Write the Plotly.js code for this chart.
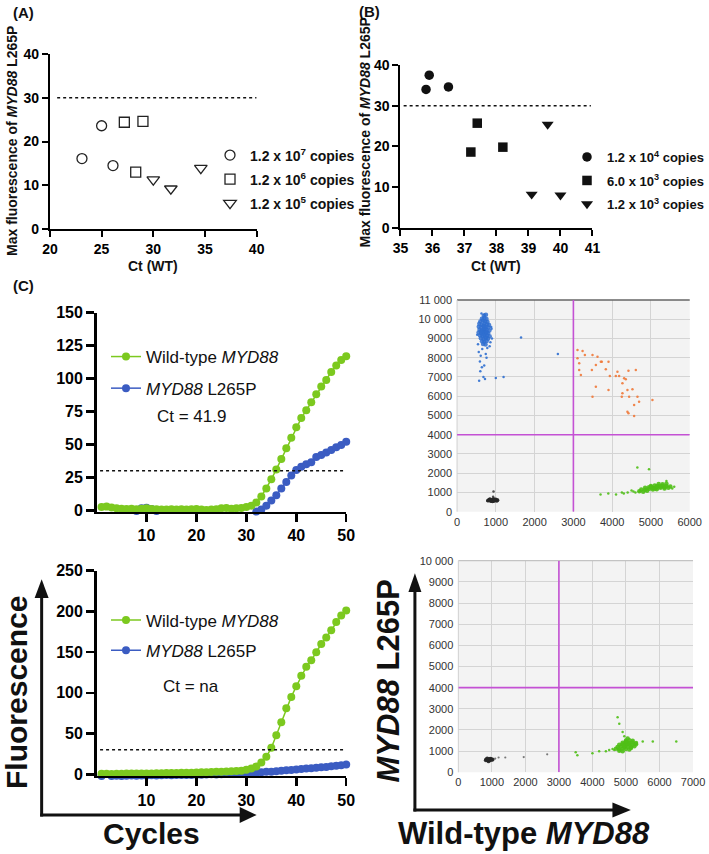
<!DOCTYPE html>
<html>
<head>
<meta charset="utf-8">
<script src="https://cdn.plot.ly/plotly-3.0.1.min.js"></script>
<style>html,body{margin:0;padding:0;background:#fff;}#chart{width:709px;height:854px;}</style>
</head>
<body>
<div id="chart"></div>
<script>
// ---------------- DATA ----------------
// Panel A
const a_ct_1e7 = [23.1, 25.0, 26.1];
const a_mf_1e7 = [16.1, 23.6, 14.5];
const a_ct_1e6 = [27.2, 29.0, 28.3];
const a_mf_1e6 = [24.4, 24.6, 13.0];
const a_ct_1e5 = [30.0, 31.7, 34.6];
const a_mf_1e5 = [11.3, 9.2, 13.9];
const a_names = ['1.2 x 10<sup>7</sup> copies', '1.2 x 10<sup>6</sup> copies', '1.2 x 10<sup>5</sup> copies'];
// Panel B
const b_ct_1e4 = [35.8, 35.9, 36.5];
const b_mf_1e4 = [34.0, 37.5, 34.6];
const b_ct_6e3 = [37.2, 37.4, 38.2];
const b_mf_6e3 = [18.6, 25.7, 19.8];
const b_ct_1e3 = [39.1, 39.6, 40.0];
const b_mf_1e3 = [8.2, 25.4, 8.0];
const b_names = ['1.2 x 10<sup>4</sup> copies', '6.0 x 10<sup>3</sup> copies', '1.2 x 10<sup>3</sup> copies'];
const threshold = 30;
// Panel C amplification curves
const cycles = [1,2,3,4,5,6,7,8,9,10,11,12,13,14,15,16,17,18,19,20,21,22,23,24,25,26,27,28,29,30,31,32,33,34,35,36,37,38,39,40,41,42,43,44,45,46,47,48,49,50];
const top_wt = [2.5,2.8,2.2,1.5,1.2,1.0,1.2,0.8,1.2,1.5, 1.0,0.8,0.5,0.5,0.8,0.5,0.8,0.5,0.8,1.0, 0.5,0.3,0.5,0.8,1.5,1.8,1.2,1.5,1.8,2.5, 3.5,6,10.5,16.5,23.5,31,39,47,55,63, 70,76,82,88,94,99,105,110,114,117];
const top_mut = [-3,-3.5,-3,-2.5,-2.5,-2,-1.5,-0.5,1.5,2, 1,-0.5,-1.5,-2,-2,-2.5,-2,-2.5,-2.5,-3, -2.5,-3,-2.5,-3,-3.5,-3,-3,-2.5,-3,-2.5, -2,-1,0.5,3.5,7.5,11.5,16.5,21.5,26.5,30.5, 33,35,36.5,40.5,42,43.8,45.8,47.8,49.6,52];
const bot_wt = [0.5,0.5,0.3,0.5,0.5,0.8,0.8,1,1,1, 1,1.2,1.2,1.5,1.5,1.5,1.8,2,2,2.2, 2.5,2.5,2.8,3,3.2,3.5,3.8,4,4.2,5.5, 7,9.5,14.5,21.5,32.5,48,64,81,95,108, 121,132,140,150,160,168,177,187,195,201];
const bot_mut = [-2,-2.2,-2,-1.8,-2,-1.8,-1.5,-1.8,-1.5,-1.5, -1.2,-1.5,-1.2,-1,-1.2,-1,-0.8,-1,-0.8,-0.5, -0.5,-0.3,0,-0.2,0,0.3,0.5,0.5,0.8,1, 1.5,2,2.5,3,3.2,3.8,4.2,4.8,5.2,6, 6.5,7,7.5,8,8.5,9,9.8,10.5,11,12];
const curve_names = ['Wild-type <i>MYD88</i>', '<i>MYD88</i> L265P'];
const ct_top = 'Ct = 41.9';
const ct_bot = 'Ct = na';
// ddPCR plot 1 (top)
const d1_blue_core_x = [690,745, 640,705,760, 600,665,720,785, 575,640,705,765,825, 560,625,685,740,805, 580,645,700,760,835, 555,620,680,745,800, 590,655,710,775,840, 615,680,740,800, 645,700,765, 670,735, 700,720,660,740,690,620,760];
const d1_blue_core_y = [10180,10230, 10030,10070,10010, 9880,9930,9900,9860, 9760,9720,9780,9740,9700, 9610,9580,9640,9600,9570, 9460,9430,9480,9440,9420, 9310,9280,9330,9300,9270, 9160,9130,9180,9150,9120, 9010,8980,9030,8990, 8860,8830,8870, 8710,8690, 9370,9520,9220,9060,9650,9380,9330];
const d1_blue_out_x = [560,610,740,590,640,700,600,680,570,720,880,900,1000,1200,1650,2600,840,520,890,760,630,780,540,700,860,650];
const d1_blue_out_y = [8300,8100,8200,7800,7500,7600,7300,7000,6800,6900,9600,9000,6950,7000,9050,8200,8600,9200,9500,8000,10300,8500,8700,10250,8800,8450];
const d1_black_x = [800,840,870,900,930,960,990,1020,850,910,950,880,1000,820,940,1040,860,970];
const d1_black_y = [580,620,560,600,640,580,610,570,650,540,650,600,640,600,560,600,600,620];
const d1_black_out_x = [930,1050,780,940];
const d1_black_out_y = [780,620,550,1050];
const d1_green_core_x = [4700,4800,4900, 4750,4850,4950,5050,5150, 4850,4950,5050,5150,5250,5350,5450, 5000,5100,5200,5300,5400,5500, 5200,5300,5400, 5100,5250,5350,5000,5150];
const d1_green_core_y = [1060,1040,1090, 1160,1140,1180,1150,1170, 1240,1270,1230,1260,1240,1270,1250, 1330,1360,1320,1350,1340,1310, 1440,1420,1450, 1200,1300,1200,1280,1320];
const d1_green_out_x = [4700,4600,4500,4300,4250,4100,3900,3700,5550,5600,5400,4650,4950,4550,4400];
const d1_green_out_y = [1050,1000,1100,950,1000,900,950,900,1200,1300,1600,2300,2200,1050,1000];
const d1_orange_x = [3106,3236,3296,3106,3150,3493,3622,3733,3579,3708,3905,3193,3836,3939,4094,4136,4179,4308,4420,4351,4265,4394,4523,4265,4437,4652,4694,4566,4248,3493,3579,3905,4394,4420,4566,5038,3476,3150,4609];
const d1_orange_y = [8402,8350,8142,7969,7709,8142,8055,7796,7623,7796,7796,7103,7398,7051,7051,7276,7051,6930,7328,6878,6670,6323,6358,6150,5977,5977,5717,5544,5977,5977,6497,6323,5197,5110,4971,5804,7363,7363,7363];
const d1_xticks = [0,1000,2000,3000,4000,5000,6000];
const d1_yticks = [0,1000,2000,3000,4000,5000,6000,7000,8000,9000,10000,11000];
const d1_yticktext = ['0','1000','2000','3000','4000','5000','6000','7000','8000','9000','10 000','11 000'];
// ddPCR plot 2 (bottom)
const d2_black_x = [820,850,880,910,940,970,1000,860,900,950,1020,830,930,890,960];
const d2_black_y = [570,610,560,620,580,630,590,650,520,640,600,600,560,600,600];
const d2_black_out_x = [1100,1200,1400,1950,2650];
const d2_black_out_y = [650,700,700,720,850];
const d2_green_core_x = [4800,4900, 4700,4800,4900,5000,5100, 4750,4850,4950,5050,5150,5250, 4800,4900,5000,5100,5200,5300, 4900,5000,5100,5200,5300, 5000,5100,5200, 5050, 4950,5050,5150,5000];
const d2_green_core_y = [1020,990, 1110,1090,1120,1100,1080, 1200,1220,1190,1210,1200,1230, 1300,1320,1290,1310,1300,1330, 1400,1420,1390,1410,1380, 1500,1520,1490, 1600, 1250,1350,1150,1450];
const d2_green_out_x = [3500,3550,4000,4200,4500,4600,4750,4800,4900,4950,5500,5800,6500,4400,4650];
const d2_green_out_y = [950,800,900,1000,1050,1100,2600,2300,1900,1700,1450,1450,1450,1000,1050];
const d2_xticks = [0,1000,2000,3000,4000,5000,6000,7000];
const d2_yticks = [0,1000,2000,3000,4000,5000,6000,7000,8000,9000,10000];
const d2_yticktext = ['0','1000','2000','3000','4000','5000','6000','7000','8000','9000','10 000'];
const gate_x = 3000, gate_y = 4000;

// ---------------- STYLE / LAYOUT ----------------
const W = 709, H = 854;
const FONT = 'Liberation Sans, Arial, Helvetica, sans-serif';
const X = p => p / W;
const Y = p => 1 - p / H;
const GREEN = '#7cc91f', BLUE = '#3b5cc2';

const prismAxis = (extra) => Object.assign({
  showline: true, linecolor: 'black', linewidth: 2, ticks: 'outside', ticklen: 6, tickwidth: 2,
  tickcolor: 'black', showgrid: false, zeroline: false, fixedrange: true,
  tickfont: {family: FONT, size: 14, color: 'black', weight: 'bold'}
}, extra);
const ddAxis = (extra) => Object.assign({
  showline: false, showgrid: true, gridcolor: '#d4d4d4', gridwidth: 1, zeroline: false, ticks: '',
  fixedrange: true, tickfont: {family: FONT, size: 11, color: '#333'}
}, extra);

const traces = [];
// A
const aSym = ['circle-open', 'square-open', 'triangle-down-open'];
[[a_ct_1e7, a_mf_1e7], [a_ct_1e6, a_mf_1e6], [a_ct_1e5, a_mf_1e5]].forEach((d, i) => {
  traces.push({x: d[0], y: d[1], type: 'scatter', mode: 'markers', name: a_names[i], xaxis: 'x', yaxis: 'y',
    legend: 'legend', legendgroup: 'a' + i, cliponaxis: false,
    marker: {symbol: aSym[i], size: i === 2 ? 11 : 10, color: '#222', line: {width: 1.3, color: '#222'}}});
});
// B
const bSym = ['circle', 'square', 'triangle-down'];
[[b_ct_1e4, b_mf_1e4], [b_ct_6e3, b_mf_6e3], [b_ct_1e3, b_mf_1e3]].forEach((d, i) => {
  traces.push({x: d[0], y: d[1], type: 'scatter', mode: 'markers', name: b_names[i], xaxis: 'x2', yaxis: 'y2',
    legend: 'legend2', legendgroup: 'b' + i, cliponaxis: false,
    marker: {symbol: bSym[i], size: i === 2 ? 10.5 : 9.5, color: '#111'}});
});
// C curves
function curve(x, y, name, color, xa, ya, leg, rank) {
  return {x: x, y: y, type: 'scatter', mode: 'lines+markers', name: name, xaxis: xa, yaxis: ya,
    legend: leg, legendgroup: leg + name, legendrank: rank, cliponaxis: false,
    line: {color: color, width: 1.5}, marker: {color: color, size: 8}};
}
traces.push(curve(cycles, top_mut, curve_names[1], BLUE, 'x3', 'y3', 'legend3', 2));
traces.push(curve(cycles, top_wt, curve_names[0], GREEN, 'x3', 'y3', 'legend3', 1));
traces.push(curve(cycles, bot_mut, curve_names[1], BLUE, 'x5', 'y5', 'legend4', 2));
traces.push(curve(cycles, bot_wt, curve_names[0], GREEN, 'x5', 'y5', 'legend4', 1));
// ddPCR
function dots(x, y, color, size, xa, ya, op) {
  return {x: x, y: y, type: 'scatter', mode: 'markers', xaxis: xa, yaxis: ya, showlegend: false, hoverinfo: 'skip',
    marker: {color: color, size: size, opacity: op, line: {width: 0}}};
}
const DB = '#2f6fd0', DK = '#262626', DG = '#4fbf16', DO = '#f0793a';
traces.push(dots(d1_blue_out_x, d1_blue_out_y, DB, 2.5, 'x4', 'y4', 0.9));
traces.push(dots(d1_blue_core_x, d1_blue_core_y, DB, 4.5, 'x4', 'y4', 0.85));
traces.push(dots(d1_black_out_x, d1_black_out_y, DK, 2.5, 'x4', 'y4', 0.8));
traces.push(dots(d1_black_x, d1_black_y, DK, 4, 'x4', 'y4', 0.9));
traces.push(dots(d1_green_out_x, d1_green_out_y, DG, 2.5, 'x4', 'y4', 0.9));
traces.push(dots(d1_green_core_x, d1_green_core_y, DG, 4.5, 'x4', 'y4', 0.9));
traces.push(dots(d1_orange_x, d1_orange_y, DO, 2.5, 'x4', 'y4', 0.9));
traces.push(dots(d2_black_out_x, d2_black_out_y, DK, 2.2, 'x6', 'y6', 0.6));
traces.push(dots(d2_black_x, d2_black_y, DK, 4, 'x6', 'y6', 0.9));
traces.push(dots(d2_green_out_x, d2_green_out_y, DG, 2.5, 'x6', 'y6', 0.9));
traces.push(dots(d2_green_core_x, d2_green_core_y, DG, 4.5, 'x6', 'y6', 0.9));

function pathPx(pts) {
  return 'M' + pts.map(p => X(p[0]) + ',' + Y(p[1])).join('L') + 'Z';
}
const shapes = [
  // thresholds
  {type: 'line', xref: 'x', yref: 'y', x0: 20.7, x1: 40, y0: threshold, y1: threshold, line: {color: '#111', width: 1.5, dash: 'dot'}},
  {type: 'line', xref: 'x2', yref: 'y2', x0: 35.1, x1: 40.95, y0: threshold, y1: threshold, line: {color: '#111', width: 1.5, dash: 'dot'}},
  {type: 'line', xref: 'x3', yref: 'y3', x0: 0.7, x1: 49.7, y0: threshold, y1: threshold, line: {color: '#111', width: 1.5, dash: 'dot'}},
  {type: 'line', xref: 'x5', yref: 'y5', x0: 0.7, x1: 49.7, y0: threshold, y1: threshold, line: {color: '#111', width: 1.5, dash: 'dot'}},
  // ddPCR backgrounds
  {type: 'rect', xref: 'x4 domain', yref: 'y4 domain', x0: 0, x1: 1, y0: 0, y1: 1, layer: 'below', fillcolor: '#f3f3f3', line: {width: 0}},
  {type: 'rect', xref: 'x6 domain', yref: 'y6 domain', x0: 0, x1: 1, y0: 0, y1: 1, layer: 'below', fillcolor: '#f3f3f3', line: {width: 0}},
  {type: 'line', xref: 'x4 domain', yref: 'y4 domain', x0: 0, x1: 1, y0: 1, y1: 1, line: {color: '#666', width: 1.5}},
  {type: 'line', xref: 'x6 domain', yref: 'y6 domain', x0: 0, x1: 1, y0: 1, y1: 1, line: {color: '#b5b5b5', width: 1}},
  {type: 'line', xref: 'x4 domain', yref: 'y4 domain', x0: 0, x1: 0, y0: 0, y1: 1, line: {color: '#d0d0d0', width: 1}},
  {type: 'line', xref: 'x6 domain', yref: 'y6 domain', x0: 0, x1: 0, y0: 0, y1: 1, line: {color: '#d0d0d0', width: 1}},
  // gates
  {type: 'line', xref: 'x4', yref: 'y4', x0: gate_x, x1: gate_x, y0: 0, y1: 11000, line: {color: '#c451d4', width: 1.6}},
  {type: 'line', xref: 'x4', yref: 'y4', x0: 0, x1: 6000, y0: gate_y, y1: gate_y, line: {color: '#c451d4', width: 1.6}},
  {type: 'line', xref: 'x6', yref: 'y6', x0: gate_x, x1: gate_x, y0: 0, y1: 10000, line: {color: '#c451d4', width: 1.6}},
  {type: 'line', xref: 'x6', yref: 'y6', x0: 0, x1: 7000, y0: gate_y, y1: gate_y, line: {color: '#c451d4', width: 1.6}},
  // big arrows left
  {type: 'line', xref: 'paper', yref: 'paper', x0: X(41.7), x1: X(41.7), y0: Y(816.5), y1: Y(596), line: {color: '#111', width: 3}},
  {type: 'line', xref: 'paper', yref: 'paper', x0: X(40.2), x1: X(242), y0: Y(815), y1: Y(815), line: {color: '#111', width: 3}},
  {type: 'path', xref: 'paper', yref: 'paper', path: pathPx([[34.7, 598], [41.7, 579.3], [48.7, 598]]), fillcolor: '#111', line: {width: 0}},
  {type: 'path', xref: 'paper', yref: 'paper', path: pathPx([[240, 807], [257, 815], [240, 823]]), fillcolor: '#111', line: {width: 0}},
  // big arrows right
  {type: 'line', xref: 'paper', yref: 'paper', x0: X(415.5), x1: X(415.5), y0: Y(811.5), y1: Y(590), line: {color: '#111', width: 3}},
  {type: 'line', xref: 'paper', yref: 'paper', x0: X(414), x1: X(615), y0: Y(810), y1: Y(810), line: {color: '#111', width: 3}},
  {type: 'path', xref: 'paper', yref: 'paper', path: pathPx([[409, 592], [415.5, 573.3], [422, 592]]), fillcolor: '#111', line: {width: 0}},
  {type: 'path', xref: 'paper', yref: 'paper', path: pathPx([[613.3, 802.5], [631.7, 810], [613.3, 817.5]]), fillcolor: '#111', line: {width: 0}}
];

function ann(text, px, py, size, opts) {
  return Object.assign({text: text, xref: 'paper', yref: 'paper', x: X(px), y: Y(py), xanchor: 'center', yanchor: 'middle',
    showarrow: false, font: {family: FONT, size: size, color: '#111'}}, opts || {});
}
const annotations = [
  ann('(A)', 24, 12, 15, {font: {family: FONT, size: 15, color: '#111', weight: 'bold'}}),
  ann('(B)', 370.5, 11, 15, {font: {family: FONT, size: 15, color: '#111', weight: 'bold'}}),
  ann('(C)', 24, 285, 15, {font: {family: FONT, size: 15, color: '#111', weight: 'bold'}}),
  ann('Max fluorescence of <i>MYD88</i> L265P', 12, 141, 14, {textangle: -90, font: {family: FONT, size: 14, color: '#111', weight: 'bold'}}),
  ann('Ct (WT)', 153, 266.5, 14, {font: {family: FONT, size: 14, color: '#111', weight: 'bold'}}),
  ann('Max fluorescence of <i>MYD88</i> L265P', 366, 132, 14, {textangle: -90, font: {family: FONT, size: 14, color: '#111', weight: 'bold'}}),
  ann('Ct (WT)', 497, 266, 14, {font: {family: FONT, size: 14, color: '#111', weight: 'bold'}}),
  ann(ct_top, 191.7, 416.7, 17),
  ann(ct_bot, 190.8, 686.7, 17),
  ann('Fluorescence', 16, 692, 30, {textangle: -90, font: {family: FONT, size: 30, color: '#111', weight: 'bold'}}),
  ann('Cycles', 152, 833, 30, {font: {family: FONT, size: 30, color: '#111', weight: 'bold'}}),
  ann('<i>MYD88</i> L265P', 389, 681, 31, {textangle: -90, font: {family: FONT, size: 31, color: '#111', weight: 'bold'}}),
  ann('Wild-type <i>MYD88</i>', 525, 833, 31, {font: {family: FONT, size: 31, color: '#111', weight: 'bold'}})
];

const legBase = {xanchor: 'left', yanchor: 'top', bgcolor: 'rgba(0,0,0,0)', borderwidth: 0, itemclick: false, itemdoubleclick: false};
const bigTick = {ticklen: 8, tickwidth: 2.5, linewidth: 2.5, tickfont: {family: FONT, size: 16, color: 'black', weight: 'bold'}};
const layout = {
  width: W, height: H, margin: {l: 0, r: 0, t: 0, b: 0}, paper_bgcolor: '#fff', plot_bgcolor: 'rgba(0,0,0,0)',
  font: {family: FONT, color: '#111'}, hovermode: false, showlegend: true,
  xaxis: prismAxis({domain: [X(50), X(257)], range: [20, 40], tickvals: [20, 25, 30, 35, 40], anchor: 'y'}),
  yaxis: prismAxis({domain: [Y(229), Y(54)], range: [0, 40], tickvals: [0, 10, 20, 30, 40], anchor: 'x'}),
  xaxis2: prismAxis({domain: [X(401), X(593.3)], range: [35, 41], tickvals: [35, 36, 37, 38, 39, 40, 41], anchor: 'y2'}),
  yaxis2: prismAxis({domain: [Y(227.7), Y(65)], range: [0, 40], tickvals: [0, 10, 20, 30, 40], anchor: 'x2'}),
  xaxis3: prismAxis(Object.assign({domain: [X(96.7), X(346.7)], range: [0, 50], tickvals: [10, 20, 30, 40, 50], anchor: 'y3'}, bigTick)),
  yaxis3: prismAxis(Object.assign({domain: [Y(511.6), Y(312.7)], range: [-1, 150], tickvals: [0, 25, 50, 75, 100, 125, 150], anchor: 'x3'}, bigTick)),
  xaxis5: prismAxis(Object.assign({domain: [X(96.7), X(346.7)], range: [0, 50], tickvals: [10, 20, 30, 40, 50], anchor: 'y5'}, bigTick)),
  yaxis5: prismAxis(Object.assign({domain: [Y(775.9), Y(570.7)], range: [-2, 250], tickvals: [0, 50, 100, 150, 200, 250], anchor: 'x5'}, bigTick)),
  xaxis4: ddAxis({domain: [X(457.7), X(690.7)], range: [0, 6000], tickvals: d1_xticks, anchor: 'y4', ticklabelstandoff: 2}),
  yaxis4: ddAxis({domain: [Y(511.7), Y(300)], range: [0, 11000], tickvals: d1_yticks, ticktext: d1_yticktext, anchor: 'x4', ticklabelstandoff: 4}),
  xaxis6: ddAxis({domain: [X(459), X(694)], range: [0, 7000], tickvals: d2_xticks, anchor: 'y6', ticklabelstandoff: 2}),
  yaxis6: ddAxis({domain: [Y(772.3), Y(560.7)], range: [0, 10000], tickvals: d2_yticks, ticktext: d2_yticktext, anchor: 'x6', ticklabelstandoff: 4}),
  legend: Object.assign({}, legBase, {x: X(210), y: Y(139.5), tracegroupgap: 2.8, font: {family: FONT, size: 14, color: '#111', weight: 'bold'}}),
  legend2: Object.assign({}, legBase, {x: X(568), y: Y(142), tracegroupgap: 3.6, font: {family: FONT, size: 13, color: '#111', weight: 'bold'}}),
  legend3: Object.assign({}, legBase, {x: X(106), y: Y(339), tracegroupgap: 6.5, font: {family: FONT, size: 17, color: '#111'}}),
  legend4: Object.assign({}, legBase, {x: X(106), y: Y(602.5), tracegroupgap: 5, font: {family: FONT, size: 17, color: '#111'}}),
  shapes: shapes, annotations: annotations
};
Plotly.newPlot('chart', traces, layout, {displayModeBar: false, staticPlot: true});
</script>
</body>
</html>
